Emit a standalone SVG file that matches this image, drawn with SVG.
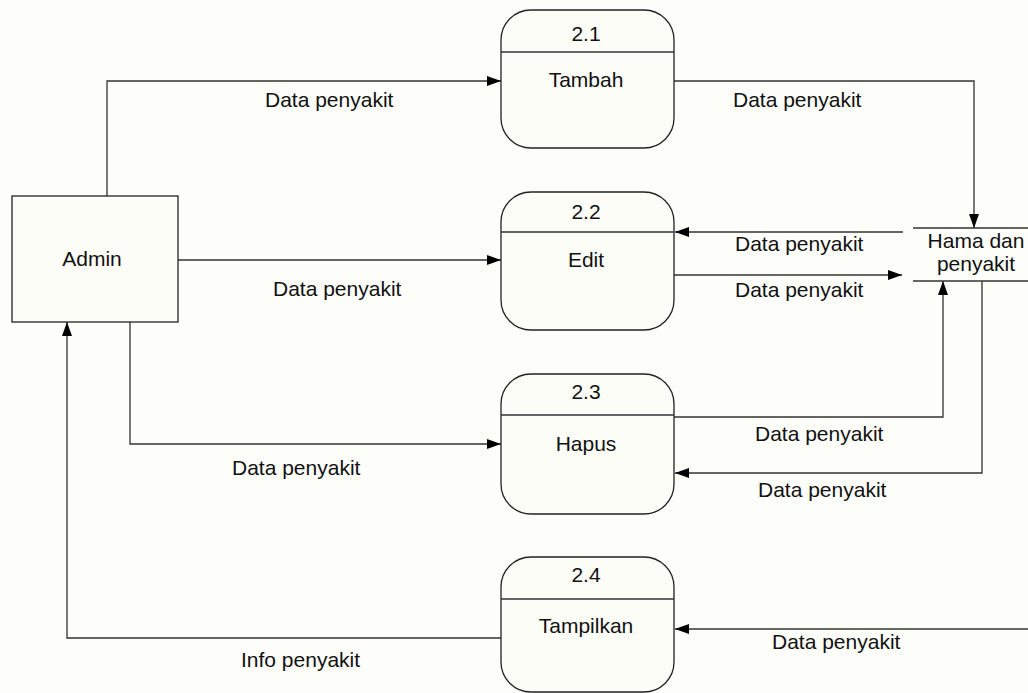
<svg xmlns="http://www.w3.org/2000/svg" width="1028" height="693" viewBox="0 0 1028 693">
  <defs>
    <marker id="arrow" viewBox="0 0 14 10" refX="14" refY="5" markerWidth="14" markerHeight="10" markerUnits="userSpaceOnUse" orient="auto">
      <path d="M0,0 L14,5 L0,10 Z" fill="#000"/>
    </marker>
    <style>
      .shape { fill: #fdfdf8; stroke: #222; stroke-width: 1.3; }
      .line { fill: none; stroke: #333; stroke-width: 1.3; }
      .flow { fill: none; stroke: #333; stroke-width: 1.3; marker-end: url(#arrow); }
      text { font-family: "Liberation Sans", Arial, sans-serif; font-size: 21px; fill: #111; }
      .c { text-anchor: middle; }
    </style>
  </defs>
  <rect width="1028" height="693" fill="#fdfdf9"/>

  <!-- data flows -->
  <g id="connectors">
    <polyline class="flow" points="107,196 107,81 501,81"/>
    <polyline class="flow" points="674,81 974,81 974,228"/>
    <polyline class="flow" points="178,260 501,260"/>
    <polyline class="flow" points="903,232 675,232"/>
    <polyline class="flow" points="674,275 902,275"/>
    <polyline class="flow" points="130,322 130,444 501,444"/>
    <polyline class="flow" points="674,417 943,417 943,281"/>
    <polyline class="flow" points="982,281 982,473 675,473"/>
    <polyline class="flow" points="1028,629 675,629"/>
    <polyline class="flow" points="501,638 67,638 67,322"/>

    <text x="265" y="107">Data penyakit</text>
    <text x="733" y="107">Data penyakit</text>
    <text x="273" y="296">Data penyakit</text>
    <text x="735" y="251">Data penyakit</text>
    <text x="735" y="297">Data penyakit</text>
    <text x="232" y="475">Data penyakit</text>
    <text x="755" y="441">Data penyakit</text>
    <text x="758" y="497">Data penyakit</text>
    <text x="772" y="649">Data penyakit</text>
    <text x="241" y="667">Info penyakit</text>
  </g>

  <!-- external entity -->
  <g id="admin">
    <rect class="shape" x="12" y="196" width="166" height="126"/>
    <text class="c" x="92" y="266">Admin</text>
  </g>

  <!-- data store -->
  <g id="store-hama">
    <line class="line" x1="913" y1="228" x2="1028" y2="228"/>
    <line class="line" x1="913" y1="281" x2="1028" y2="281"/>
    <text class="c" x="976" y="248">Hama dan</text>
    <text class="c" x="976" y="271">penyakit</text>
  </g>

  <!-- processes -->
  <g id="p21">
    <rect class="shape" x="501" y="10" width="173" height="138" rx="30" ry="30"/>
    <line class="line" x1="501" y1="52" x2="674" y2="52"/>
    <text class="c" x="586" y="41">2.1</text>
    <text class="c" x="586" y="87">Tambah</text>
  </g>
  <g id="p22">
    <rect class="shape" x="501" y="192" width="173" height="138" rx="30" ry="30"/>
    <line class="line" x1="501" y1="232" x2="674" y2="232"/>
    <text class="c" x="586" y="219">2.2</text>
    <text class="c" x="586" y="267">Edit</text>
  </g>
  <g id="p23">
    <rect class="shape" x="501" y="374" width="173" height="140" rx="30" ry="30"/>
    <line class="line" x1="501" y1="415" x2="674" y2="415"/>
    <text class="c" x="586" y="399">2.3</text>
    <text class="c" x="586" y="451">Hapus</text>
  </g>
  <g id="p24">
    <rect class="shape" x="501" y="557" width="173" height="135" rx="30" ry="30"/>
    <line class="line" x1="501" y1="599" x2="674" y2="599"/>
    <text class="c" x="586" y="582">2.4</text>
    <text class="c" x="586" y="633">Tampilkan</text>
  </g>
</svg>
